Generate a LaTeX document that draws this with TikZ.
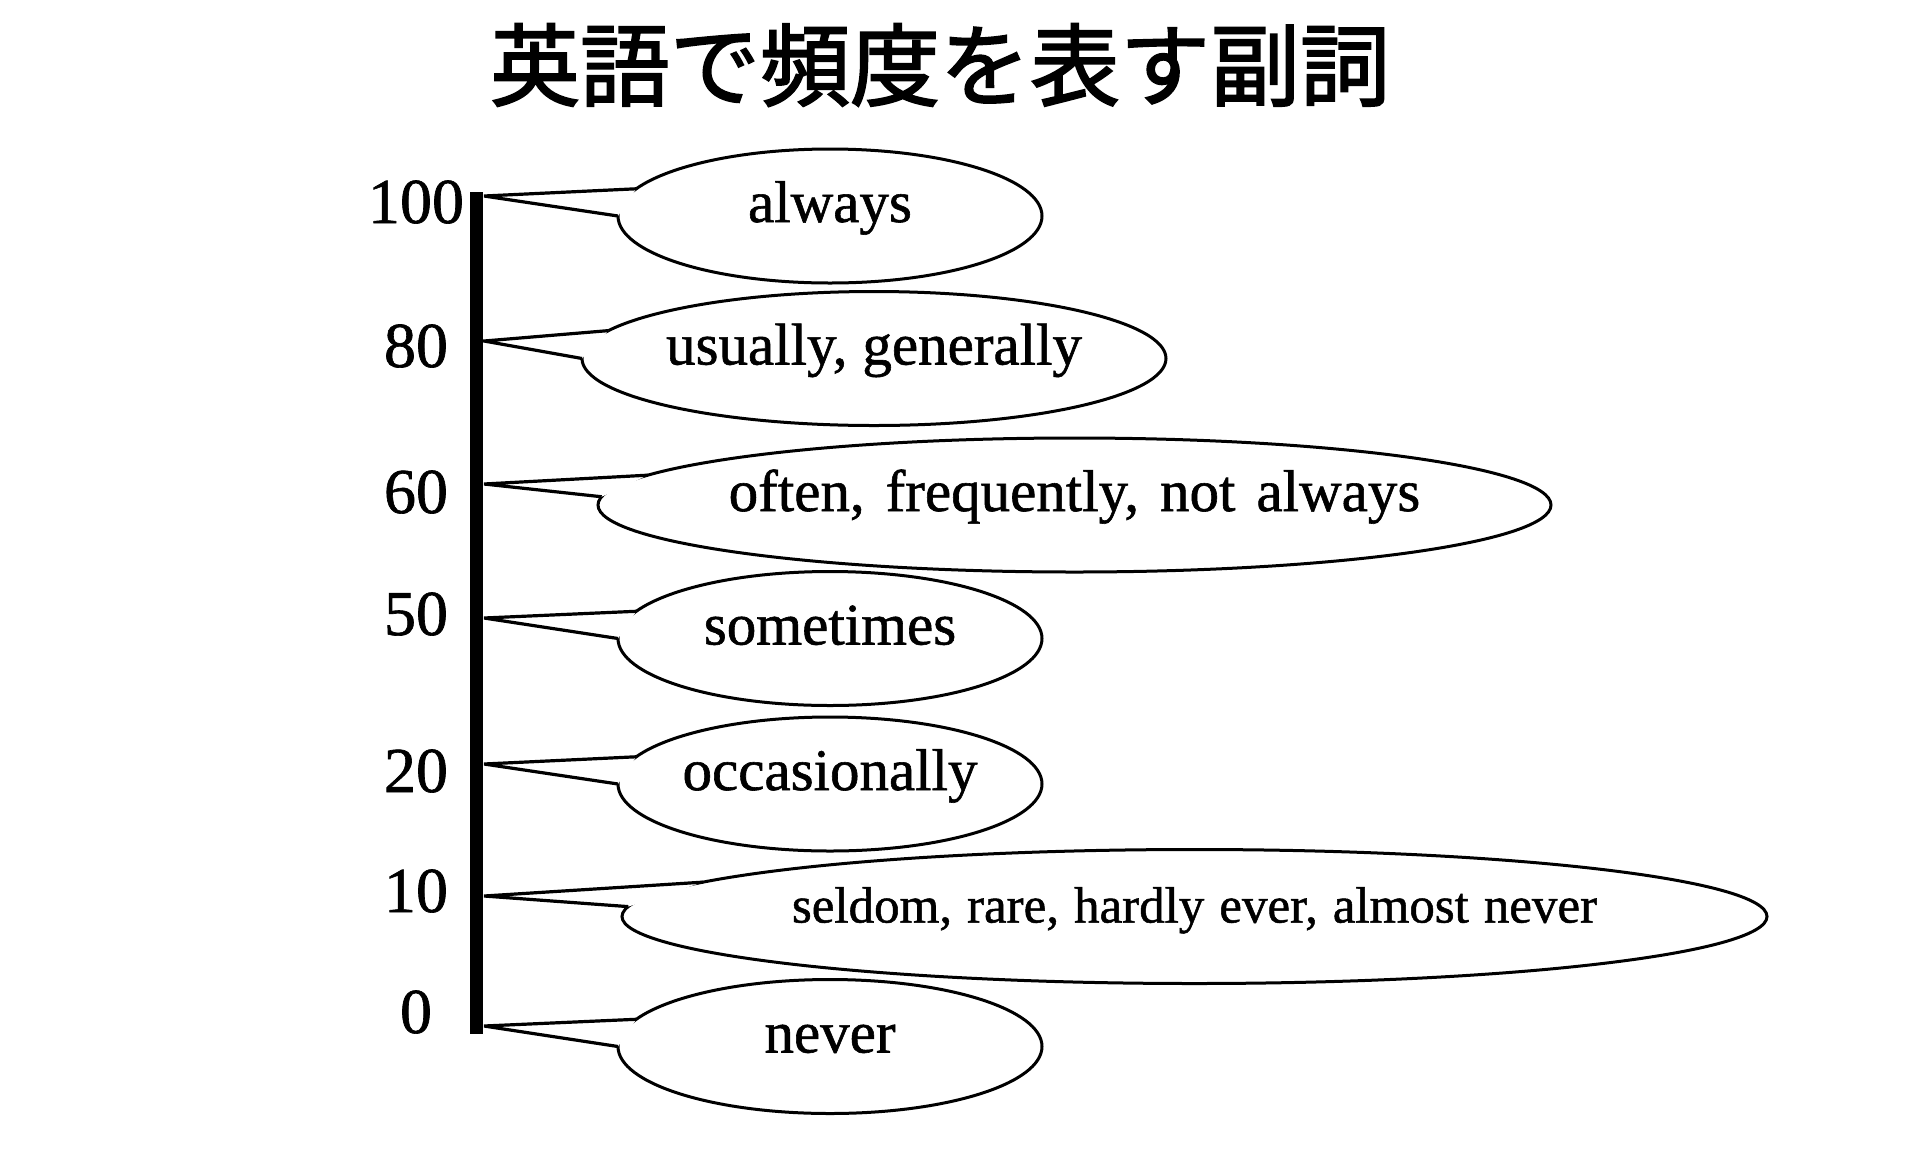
\documentclass[tikz,border=0pt]{standalone}
\usepackage{fontspec}
\setmainfont{Liberation Serif}[FakeBold=1]
\newfontfamily\cjk{Noto Sans CJK JP}[FakeBold=2]
\usetikzlibrary{shapes.geometric}
\begin{document}
\begin{tikzpicture}[x=1pt,y=1pt,
  bub/.style={ellipse, draw, line width=3pt, fill=white, inner sep=0pt, outer sep=0pt},
  tail/.style={line width=3.2pt, line join=miter},
  num/.style={anchor=base, inner sep=0pt, font=\fontsize{64}{66}\selectfont},
  axisline/.style={line width=13pt}
]
\useasboundingbox (0,0) rectangle (1920,-1163);
\fill[white] (0,0) rectangle (1920,-1163);

% title
\node[anchor=base, inner sep=0pt, font=\cjk\fontsize{90}{92}\selectfont] (title) at (940,-99) {英語で頻度を表す副詞};

% axis
\coordinate (axtop) at (476.5,-192);
\coordinate (axbot) at (476.5,-1034);
\draw[axisline] (axtop) -- (axbot);

% callouts
\foreach \n/\cx/\cy/\rx/\ty/\au/\al/\fs/\ws/\txt in {
  a/830/216/212/196/172.4/180.5/59/0/always,
  b/874/358.5/292/341/174.4/180.3/59/0/{usually, generally},
  c/1074.5/505/476.5/484/176.0/179.8/59/6/{often, frequently, not always},
  d/830/638.5/212/618/172.2/180.4/59/0/sometimes,
  e/830/784/212/764/172.7/180.8/59/0/occasionally,
  f/1194.5/916.5/572.5/896/176.6/179.8/51/0/{seldom, rare, hardly ever, almost never},
  g/830/1046.5/212/1026/172.5/180.4/59/0/never}
{
  \coordinate (tip\n) at (484,-\ty);
  \node[bub, minimum width=2*\rx, minimum height=134] (e\n) at (\cx,-\cy) {};
  \fill[white] (tip\n) -- (e\n.\au) -- (e\n.\al) -- cycle;
  \draw[tail] (e\n.\au) -- (tip\n) -- (e\n.\al);
  \node[anchor=base, inner sep=0pt, font=\fontsize{\fs}{\fs}\selectfont] (t\n) at ([yshift=-6pt]e\n.center) {\spaceskip=\dimexpr 15pt+\ws pt plus 3pt minus 3pt\relax\txt};
}

% numbers
\node[num] (n100) at (416,-223) {100};
\node[num] (n80) at (416,-367) {80};
\node[num] (n60) at (416,-513) {60};
\node[num] (n50) at (416,-635) {50};
\node[num] (n20) at (416,-792) {20};
\node[num] (n10) at (416,-912) {10};
\node[num] (n0) at (416,-1033) {0};
\end{tikzpicture}
\end{document}
